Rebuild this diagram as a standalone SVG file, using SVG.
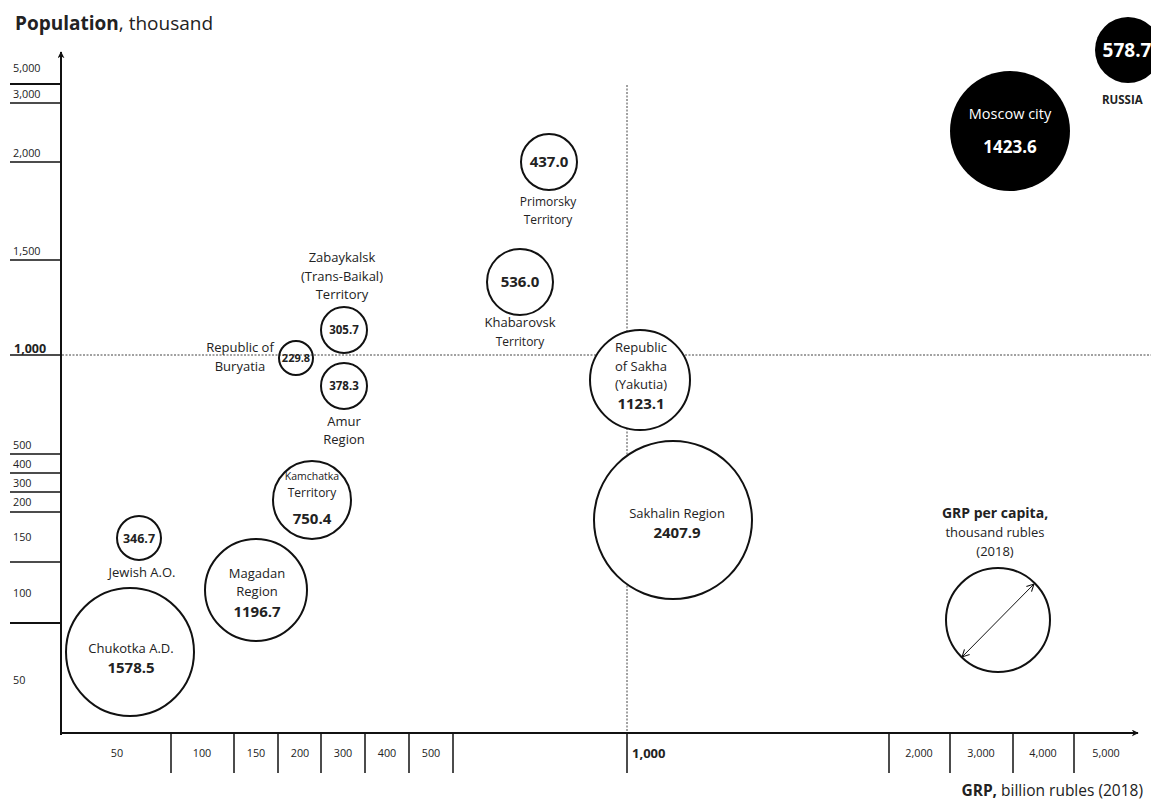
<svg xmlns="http://www.w3.org/2000/svg" width="1151" height="807" viewBox="0 0 1151 807">
  <defs>
    <style>
      text { font-family: "Open Sans", "Liberation Sans", sans-serif; fill: #222; }
      .lbl { font-size: 13px; text-anchor: middle; }
      .val { font-size: 15px; font-weight: bold; text-anchor: middle; }
      .tick { font-size: 10.8px; }
      .tickc { font-size: 10.8px; text-anchor: middle; }
      .axis { stroke: #111; stroke-width: 2; fill: none; }
      .tk { stroke: #111; stroke-width: 1.5; }
      .tkb { stroke: #111; stroke-width: 2.2; }
      .grid { stroke: #444; stroke-width: 1; stroke-dasharray: 2 1.5; fill: none; }
      .bub { fill: #fff; stroke: #111; stroke-width: 2; }
      .bubo { fill: none; stroke: #111; stroke-width: 2; }
      .dark { fill: #000; }
      .inv { fill: #fff; }
    </style>
    <marker id="ah" viewBox="0 0 10 10" refX="9" refY="5" markerWidth="7" markerHeight="7" orient="auto-start-reverse" markerUnits="userSpaceOnUse">
      <path d="M0,0 L10,5 L0,10 L3,5 z" fill="#111"/>
    </marker>
    <marker id="sa" viewBox="0 0 10 10" refX="9" refY="5" markerWidth="9" markerHeight="9" orient="auto-start-reverse" markerUnits="userSpaceOnUse">
      <path d="M1,1 L9,5 L1,9" fill="none" stroke="#111" stroke-width="1.2"/>
    </marker>
  </defs>

  <!-- axis titles -->
  <text x="15" y="30" style="font-size:19px"><tspan font-weight="bold">Population</tspan>, thousand</text>
  <text x="1143" y="796" style="font-size:15.5px" text-anchor="end"><tspan font-weight="bold">GRP,</tspan> billion rubles (2018)</text>

  <g id="connectors">
    <!-- reference lines at 1,000 -->
    <line class="grid" x1="62" y1="355" x2="1151" y2="355"/>
    <line class="grid" x1="627" y1="85" x2="627" y2="733"/>

    <!-- axes -->
    <line class="axis" x1="61" y1="735" x2="61" y2="52" marker-end="url(#ah)"/>
    <line class="axis" x1="60" y1="733" x2="1138" y2="733" marker-end="url(#ah)"/>

    <!-- y ticks -->
    <line class="tkb" x1="10" y1="84" x2="61" y2="84"/>
    <line class="tk" x1="10" y1="103" x2="61" y2="103"/>
    <line class="tk" x1="10" y1="162" x2="61" y2="162"/>
    <line class="tk" x1="10" y1="260" x2="61" y2="260"/>
    <line class="tk" x1="10" y1="355" x2="61" y2="355"/>
    <line class="tk" x1="10" y1="454" x2="61" y2="454"/>
    <line class="tk" x1="10" y1="473" x2="61" y2="473"/>
    <line class="tk" x1="10" y1="492" x2="61" y2="492"/>
    <line class="tk" x1="10" y1="512" x2="61" y2="512"/>
    <line class="tk" x1="10" y1="562" x2="61" y2="562"/>
    <line class="tkb" x1="10" y1="623" x2="61" y2="623"/>

    <!-- x ticks -->
    <line class="tk" x1="171" y1="733" x2="171" y2="773"/>
    <line class="tk" x1="234" y1="733" x2="234" y2="773"/>
    <line class="tk" x1="278" y1="733" x2="278" y2="773"/>
    <line class="tk" x1="321" y1="733" x2="321" y2="773"/>
    <line class="tk" x1="365" y1="733" x2="365" y2="773"/>
    <line class="tk" x1="409" y1="733" x2="409" y2="773"/>
    <line class="tk" x1="453" y1="733" x2="453" y2="773"/>
    <line class="tk" x1="627" y1="733" x2="627" y2="773"/>
    <line class="tk" x1="889" y1="733" x2="889" y2="773"/>
    <line class="tk" x1="950" y1="733" x2="950" y2="773"/>
    <line class="tk" x1="1013" y1="733" x2="1013" y2="773"/>
    <line class="tk" x1="1074" y1="733" x2="1074" y2="773"/>
  </g>

  <!-- y tick labels -->
  <g id="y-labels">
    <text class="tick" x="13" y="72">5,000</text>
    <text class="tick" x="13" y="98">3,000</text>
    <text class="tick" x="13" y="157">2,000</text>
    <text class="tick" x="13" y="255">1,500</text>
    <text x="14" y="353" style="font-size:12.5px" font-weight="bold">1,000</text>
    <text class="tick" x="13" y="449">500</text>
    <text class="tick" x="13" y="468">400</text>
    <text class="tick" x="13" y="487">300</text>
    <text class="tick" x="13" y="506">200</text>
    <text class="tick" x="13" y="541">150</text>
    <text class="tick" x="13" y="597">100</text>
    <text class="tick" x="13" y="684">50</text>
  </g>

  <!-- x tick labels -->
  <g id="x-labels">
    <text class="tickc" x="117" y="757">50</text>
    <text class="tickc" x="202" y="757">100</text>
    <text class="tickc" x="256" y="757">150</text>
    <text class="tickc" x="300" y="757">200</text>
    <text class="tickc" x="343" y="757">300</text>
    <text class="tickc" x="387" y="757">400</text>
    <text class="tickc" x="431" y="757">500</text>
    <text x="632" y="758" style="font-size:13px" font-weight="bold">1,000</text>
    <text class="tickc" x="919" y="757">2,000</text>
    <text class="tickc" x="981" y="757">3,000</text>
    <text class="tickc" x="1043" y="757">4,000</text>
    <text class="tickc" x="1106" y="757">5,000</text>
  </g>

  <g id="chukotka">
    <circle class="bub" cx="130" cy="652" r="64"/>
    <text class="lbl" x="131" y="653">Chukotka A.D.</text>
    <text class="val" x="131" y="673">1578.5</text>
  </g>

  <g id="jewish">
    <circle class="bub" cx="139" cy="538" r="22"/>
    <text class="val" x="139" y="543" style="font-size:12.5px">346.7</text>
    <text class="lbl" x="142" y="577">Jewish A.O.</text>
  </g>

  <g id="magadan">
    <circle class="bub" cx="256" cy="590" r="51"/>
    <text class="lbl" x="257" y="578">Magadan</text>
    <text class="lbl" x="257" y="596">Region</text>
    <text class="val" x="257" y="617">1196.7</text>
  </g>

  <g id="kamchatka">
    <circle class="bub" cx="312" cy="500" r="39"/>
    <text class="lbl" x="312" y="480" style="font-size:10.5px">Kamchatka</text>
    <text class="lbl" x="312" y="497" style="font-size:12px">Territory</text>
    <text class="val" x="312" y="524">750.4</text>
  </g>

  <g id="buryatia">
    <circle class="bubo" cx="296" cy="358" r="17"/>
    <text class="val" x="296" y="362" style="font-size:11px">229.8</text>
    <text class="lbl" x="240" y="352">Republic of</text>
    <text class="lbl" x="240" y="371">Buryatia</text>
  </g>

  <g id="zabaykalsk">
    <circle class="bub" cx="344" cy="330" r="23"/>
    <text class="val" x="344" y="334" style="font-size:11.5px">305.7</text>
    <text class="lbl" x="342" y="262">Zabaykalsk</text>
    <text class="lbl" x="342" y="281">(Trans-Baikal)</text>
    <text class="lbl" x="342" y="299">Territory</text>
  </g>

  <g id="amur">
    <circle class="bub" cx="344" cy="386" r="23"/>
    <text class="val" x="344" y="390" style="font-size:11.5px">378.3</text>
    <text class="lbl" x="344" y="426">Amur</text>
    <text class="lbl" x="344" y="444">Region</text>
  </g>

  <g id="primorsky">
    <circle class="bub" cx="549" cy="162" r="28"/>
    <text class="val" x="549" y="167">437.0</text>
    <text class="lbl" x="548" y="206" style="font-size:12px">Primorsky</text>
    <text class="lbl" x="548" y="224" style="font-size:12px">Territory</text>
  </g>

  <g id="khabarovsk">
    <circle class="bub" cx="520" cy="282" r="33"/>
    <text class="val" x="520" y="287">536.0</text>
    <text class="lbl" x="520" y="327">Khabarovsk</text>
    <text class="lbl" x="520" y="346" style="font-size:12px">Territory</text>
  </g>

  <g id="sakha">
    <circle class="bub" cx="640" cy="380" r="50"/>
    <text class="lbl" x="641" y="352">Republic</text>
    <text class="lbl" x="641" y="371">of Sakha</text>
    <text class="lbl" x="641" y="389">(Yakutia)</text>
    <text class="val" x="641" y="409">1123.1</text>
  </g>

  <g id="sakhalin">
    <circle class="bub" cx="673" cy="520" r="79"/>
    <text class="lbl" x="677" y="518">Sakhalin Region</text>
    <text class="val" x="677" y="538">2407.9</text>
  </g>

  <g id="moscow">
    <circle class="dark" cx="1010" cy="131" r="60"/>
    <text class="lbl inv" x="1010" y="119" style="font-size:14.5px">Moscow city</text>
    <text class="val inv" x="1010" y="153" style="font-size:17px">1423.6</text>
  </g>

  <g id="russia">
    <circle class="dark" cx="1128" cy="50" r="33"/>
    <text class="val inv" x="1127" y="57" style="font-size:19px">578.7</text>
    <text x="1102" y="104" style="font-size:11.5px" font-weight="bold">RUSSIA</text>
  </g>

  <g id="legend">
    <text class="val" x="995" y="518" style="font-size:14px">GRP per capita,</text>
    <text class="lbl" x="995" y="537">thousand rubles</text>
    <text class="lbl" x="995" y="556">(2018)</text>
    <circle class="bubo" cx="998" cy="620" r="52"/>
    <line x1="962" y1="657" x2="1034" y2="584" stroke="#111" stroke-width="1" marker-start="url(#sa)" marker-end="url(#sa)"/>
  </g>
</svg>
